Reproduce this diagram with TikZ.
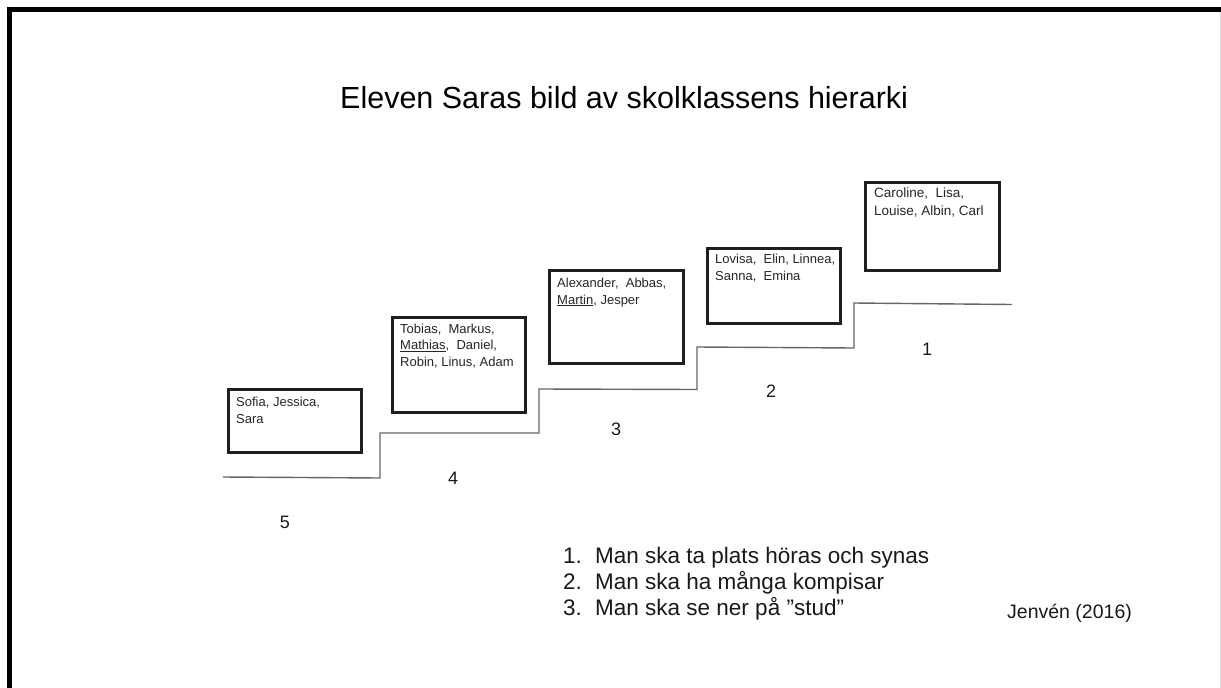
\documentclass[tikz,border=0pt]{standalone}
\usepackage{fontspec}
\setmainfont{Liberation Sans}
\begin{document}
\begin{tikzpicture}[x=1pt,y=-1pt,
  box/.style={draw=black!88, line width=2.5, inner sep=0, anchor=north west},
  names/.style={anchor=north west, inner sep=0, align=left, font=\fontsize{13}{16.5}\selectfont, text=black!85},
  stepnum/.style={font=\fontsize{18}{20}\selectfont, inner sep=0, text=black!90},
  stair/.style={draw=black!60, line width=1.4, line join=miter},
  listline/.style={anchor=base west, inner sep=0, font=\fontsize{22.5}{26}\selectfont, text=black!90},
  frame/.style={draw=black, line width=4.4, line join=miter}]
\useasboundingbox (0,0) rectangle (1221,688);
\fill[white] (0,0) rectangle (1221,688);
% frame
\draw[frame] (9.5,688) -- (9.5,9.5) -- (1221,9.5);
\draw[black!15, line width=1] (1220,12) -- (1220,688);
% title
\node[anchor=base west, inner sep=0, font=\fontsize{30.5}{36}\selectfont] (title) at (340,108) {Eleven Saras bild av skolklassens hierarki};
% staircase
\draw[stair] (223,477) -- (380,478) -- (380,433) -- (539,433) -- (539,389) -- (697,389.5) -- (697,347) -- (854,348) -- (854,303) -- (1012,304.5);
% boxes
\node[box, minimum width=133, minimum height=63] (b5) at (227,388) {};
\node[box, minimum width=133, minimum height=95] (b4) at (391,316) {};
\node[box, minimum width=134, minimum height=93] (b3) at (548,269) {};
\node[box, minimum width=133, minimum height=75] (b2) at (706,247) {};
\node[box, minimum width=134, minimum height=88] (b1) at (864,181) {};
% box texts
\node[names] (t5) at ([shift={(9,9)}]b5.north west) {Sofia, Jessica,\\Sara};
\node[names] (t4) at ([shift={(9,7.5)}]b4.north west) {Tobias,\ \ Markus,\\\underline{Mathias},\ \ Daniel,\\Robin, Linus, Adam};
\node[names] (t3) at ([shift={(9,9)}]b3.north west) {Alexander,\ \ Abbas,\\\underline{Martin}, Jesper};
\node[names] (t2) at ([shift={(9,7)}]b2.north west) {Lovisa,\ \ Elin, Linnea,\\Sanna,\ \ Emina};
\node[names, font=\fontsize{13.5}{17.5}\selectfont] (t1) at ([shift={(10,7)}]b1.north west) {Caroline,\ \ Lisa,\\Louise, Albin, Carl};
% step numbers
\node[stepnum] (n5) at (285,522) {5};
\node[stepnum] (n4) at (453,478) {4};
\node[stepnum] (n3) at (616,429) {3};
\node[stepnum] (n2) at (771,391) {2};
\node[stepnum] (n1) at (927,349) {1};
% rules list
\node[listline] (l1) at (563,563) {\makebox[32pt][l]{1.}Man ska ta plats höras och synas};
\node[listline] (l2) at (563,589) {\makebox[32pt][l]{2.}Man ska ha många kompisar};
\node[listline] (l3) at (563,615) {\makebox[32pt][l]{3.}Man ska se ner på "stud"};
% source
\node[anchor=base west, inner sep=0, font=\fontsize{19.5}{22}\selectfont, text=black!90] (src) at (1007,618) {Jenvén (2016)};
\end{tikzpicture}
\end{document}
